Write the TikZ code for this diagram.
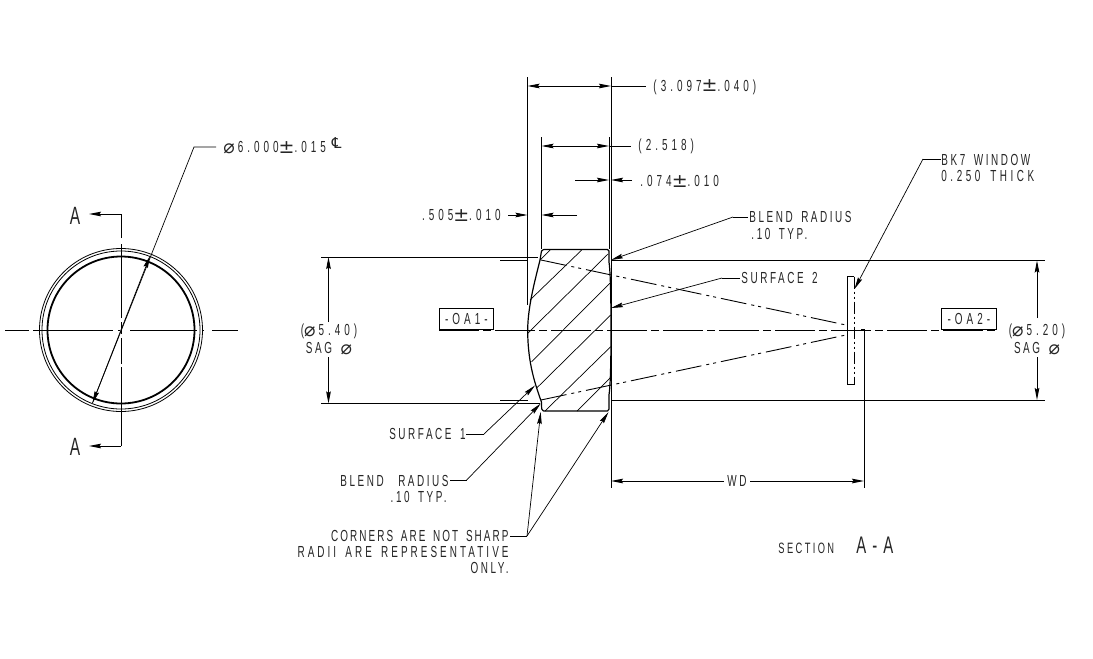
\documentclass[tikz,border=0pt]{standalone}
\usepackage{fontspec}
\setmainfont[FakeStretch=0.62,LetterSpace=16,WordSpace=1.6]{Liberation Sans}
\newfontfamily\dg[FakeStretch=0.62,LetterSpace=25,WordSpace=1.6]{Liberation Sans}
\newfontfamily\symf{DejaVu Sans}
\usetikzlibrary{arrows.meta}
\newcommand{\dia}{\smash{\raisebox{-1pt}{\fontsize{19}{16}\symf\char"2300}}\hspace{3pt}}
\newcommand{\clsym}{\smash{\raisebox{4pt}{\fontsize{15}{16}\symf\char"2104}}}
\newcommand{\plmi}{\smash{\raisebox{-0.5pt}{\fontsize{19}{16}\symf\char"00B1}}}
\tikzset{
  x=1pt,y=-1pt,
  every path/.style={line width=0.9pt,black},
  lbl/.style={inner sep=0pt,text=black!85,font=\fontsize{16}{16.4}\selectfont},
  num/.style={inner sep=0pt,text=black!85,font=\fontsize{16}{16.4}\selectfont\dg},
  big/.style={inner sep=0pt,text=black!85,font=\fontsize{25}{26}\selectfont},
  dimline/.style={{Stealth[length=12pt,width=4.6pt,inset=1.5pt]}-{Stealth[length=12pt,width=4.6pt,inset=1.5pt]}},
  tip/.style={-{Stealth[length=12pt,width=4.6pt,inset=1.5pt]}},
  leader/.style={-{Stealth[length=12pt,width=4.6pt,inset=1.5pt]},line width=0.7pt},
  thinl/.style={line width=0.7pt},
  hatch/.style={line width=0.7pt},
  ray/.style={line width=0.9pt,dash pattern=on 26pt off 5pt on 3pt off 4pt on 3pt off 5pt},
  axis/.style={line width=0.9pt,dash pattern=on 40pt off 4pt on 8pt off 4pt},
  boxed/.style={draw,thinl,inner sep=0pt,minimum height=21.5pt,text=black!85,font=\fontsize{16}{16}\selectfont\dg}
}
\begin{document}
\begin{tikzpicture}
\useasboundingbox (0,0) rectangle (1093,659);
\fill[white] (0,0) rectangle (1093,659);
%% left view
\coordinate (C) at (121,330);
\draw[line width=0.8pt] (C) circle (81.5pt);
\draw[line width=0.8pt] (C) circle (79pt);
\draw[line width=1.8pt] (C) circle (73.5pt);
\foreach \a/\b in {5/29,33/113,118/120,130/197,202/204,212/238}
  \draw[line width=0.9pt] (\a,330)--(\b,330);
\coordinate (Atop) at (121,214);
\coordinate (Abot) at (121,446);
\coordinate (Atip) at (89,214);
\coordinate (Bpt) at (89,446);
\draw (121,238) -- (Atop);
\draw[tip] (Atop) -- (Atip);
\draw (121,372)--(121,367) (121,364)--(121,338) (121,334)--(121,322) (121,318)--(121,244);
\draw (121,372)--(Abot);
\draw[tip] (Abot) -- (Bpt);
\node[big] (Atext) at (75,216) {A};
\node[big] (Btext) at (75,447) {A};
\coordinate (dE) at (216,147);
\coordinate (dK) at (194,147);
\coordinate (dT) at (150,256);
\coordinate (dB) at (92.5,403);
\draw[line width=0.7pt] (dE)--(dK)--(dB);
\draw[leader] (C)--(dT);
\draw[leader] (C)--(dB);
\node[num,anchor=west] (dia6) at (223,147) {\dia 6.000\plmi.015\hspace{6pt}\clsym};
%% section: lens
\draw[line width=1.2pt,line join=round] (543.5,249.5) -- (607.5,249.5) to[out=0,in=-90] (609,251) -- (609,262)
  .. controls (610.5,272) and (611,300) .. (611,330)
  .. controls (611,360) and (610.5,385) .. (609,395)
  -- (609,409) to[out=90,in=0] (607.5,411) -- (543.5,411) to[out=180,in=90] (541.7,409) -- (541.4,402)
  .. controls (536,386) and (527.7,365) .. (527.7,330)
  .. controls (527.7,305) and (537,273) .. (540,260) -- (541.5,251) to[out=-90,in=180] (543.5,249.5);
\foreach \a/\b/\c/\d in {550/250/540/260, 581.7/250/530/300, 608/254/528/333, 610/283/531.7/361.7, 610.7/315/536.7/388, 610.7/346.7/545/411, 610/378/577/411}
  \draw[hatch] (\a,\b)--(\c,\d);
%% extension lines
\draw (527.5,77)--(527.5,305);
\draw (541.5,137)--(541.5,249);
\draw (609,137)--(609,249);
\draw (611,77)--(611,488);
\draw (321,257)--(538,257);
\draw (321,403.5)--(540,403.5);
\draw (612,260.5)--(1045,260.5);
\draw (612,400)--(1045,400);
\draw (864,330)--(864,488);
\fill (860.5,329) rectangle (864.5,331);
%% centre line
\node[boxed,minimum width=54pt,anchor=south west] (oa1) at (439,330) {-OA1-};
\node[boxed,minimum width=54.5pt,anchor=south west] (oa2) at (941.3,330) {-OA2-};
\draw[axis] (oa1.south west) -- (oa2.south east);
%% rays
\coordinate (r1) at (500,260);
\coordinate (r2) at (500,400);
\coordinate (f1) at (846,325);
\coordinate (f2) at (846,335);
\draw (r1)--(528,260);
\draw (r2)--(528,400);
\draw[ray] (541,260)--(f1);
\draw[ray] (541,400)--(f2);
%% window
\draw (854.3,276.5)--(847.3,276.5)--(847.3,384.5)--(854.3,384.5);
\draw[dash pattern=on 12pt off 3pt on 2pt off 3pt on 2pt off 3pt] (854.3,276.5)--(854.3,384.5);
%% top dims
\coordinate (d1a) at (527.5,86);
\coordinate (d1b) at (611,86);
\coordinate (d1c) at (646,86);
\draw[dimline] (d1a)--(d1b);
\draw (d1b)--(d1c);
\node[num,anchor=west] (t1) at (653,87) {(3.097\plmi.040)};
\coordinate (d2a) at (541.5,146);
\coordinate (d2b) at (609,146);
\coordinate (d2c) at (631,146);
\draw[dimline] (d2a)--(d2b);
\draw (d2b)--(d2c);
\node[num,anchor=west] (t2) at (638,146) {(2.518)};
\coordinate (d3a) at (575,180);
\coordinate (d3b) at (609,180);
\coordinate (d3c) at (632,180);
\coordinate (d3d) at (611,180);
\draw[tip] (d3a)--(d3b);
\draw[tip] (d3c)--(d3d);
\node[num,anchor=west] (t3) at (640,181) {.074\plmi.010};
\coordinate (d4a) at (508,215);
\coordinate (d4b) at (527.5,215);
\coordinate (d4c) at (577,215);
\coordinate (d4d) at (541.5,215);
\draw[tip] (d4a)--(d4b);
\draw[tip] (d4c)--(d4d);
\node[num,anchor=east] (t4) at (501,215) {.505\plmi.010};
%% sag dims
\node[num] (sagL) at (329,331) {(\dia 5.40)};
\node[lbl] (sagLb) at (329,347.5) {SAG \dia};
\coordinate (sL1) at (328.5,257);
\coordinate (sL2) at (328.5,403.5);
\coordinate (sL3) at (328.5,322);
\coordinate (sL4) at (328.5,357);
\draw[tip] (sL3) -- (sL1);
\draw[tip] (sL4) -- (sL2);
\node[num] (sagR) at (1037,331) {(\dia 5.20)};
\node[lbl] (sagRb) at (1037,347.5) {SAG \dia};
\coordinate (sR1) at (1037,260.5);
\coordinate (sR2) at (1037,400);
\coordinate (sR3) at (1037,318);
\coordinate (sR4) at (1037,357);
\draw[tip] (sR3) -- (sR1);
\draw[tip] (sR4) -- (sR2);
%% WD
\node[lbl] (wd) at (737,481) {WD};
\coordinate (w1) at (611,481);
\coordinate (w2) at (864,481);
\draw[tip] (wd.west) ++(-3,0) -- (w1);
\draw[tip] (wd.east) ++(3,0) -- (w2);
%% leaders right
\node[lbl,align=left,anchor=west] (blendT) at (749,225.5) {BLEND RADIUS\\[0pt]\hspace*{2pt}.10 TYP.};
\coordinate (bTk) at (733,217);
\coordinate (bTe) at (748,217);
\coordinate (bTt) at (611,260);
\draw[thinl] (bTe)--(bTk);
\draw[leader] (bTk)--(bTt);
\node[lbl,anchor=west] (surf2) at (741,278) {SURFACE 2};
\coordinate (s2k) at (722,278);
\coordinate (s2e) at (740,278);
\coordinate (s2t) at (611,308);
\draw[thinl] (s2e)--(s2k);
\draw[leader] (s2k)--(s2t);
\node[lbl,align=left,anchor=west] (bk7) at (941,168) {BK7 WINDOW\\{\addfontfeature{LetterSpace=22}0.250 THICK}};
\coordinate (bkk) at (923,159);
\coordinate (bke) at (941,159);
\coordinate (bkt) at (854.5,289);
\draw[thinl] (bke)--(bkk);
\draw[leader] (bkk)--(bkt);
%% leaders lower
\node[lbl,anchor=east] (surf1) at (466,434) {SURFACE 1};
\coordinate (s1k) at (484,434);
\coordinate (s1t) at (535,385.5);
\draw[thinl] (surf1.east)--(s1k);
\draw[leader] (s1k)--(s1t);
\node[lbl,align=right,anchor=east] (blendB) at (449,489) {BLEND\hspace{6pt} RADIUS\\.10 TYP.\hspace*{2pt}};
\coordinate (bBs) at (450,480);
\coordinate (bBk) at (466.7,480);
\coordinate (bBt) at (540.7,403.5);
\draw[thinl] (bBs)--(bBk);
\draw[leader] (bBk)--(bBt);
\node[lbl,align=right,anchor=east] (corn) at (509,552) {{\addfontfeature{LetterSpace=13}CORNERS ARE NOT SHARP}\\{\addfontfeature{LetterSpace=19}RADII ARE REPRESENTATIVE}\\ONLY.};
\coordinate (cs) at (510,536);
\coordinate (ck) at (527,536);
\coordinate (ct1) at (540.7,412);
\coordinate (ct2) at (608.5,412);
\draw[thinl] (cs)--(ck);
\draw[leader] (ck)--(ct1);
\draw[leader] (ck)--(ct2);
%% section title
\node[lbl,anchor=west,font=\fontsize{15}{15}\selectfont] (sec) at (778,548) {SECTION};
\node[lbl,anchor=west,font=\fontsize{24}{24}\selectfont\dg] (aa) at (856,545) {A-A};
\end{tikzpicture}
\end{document}
